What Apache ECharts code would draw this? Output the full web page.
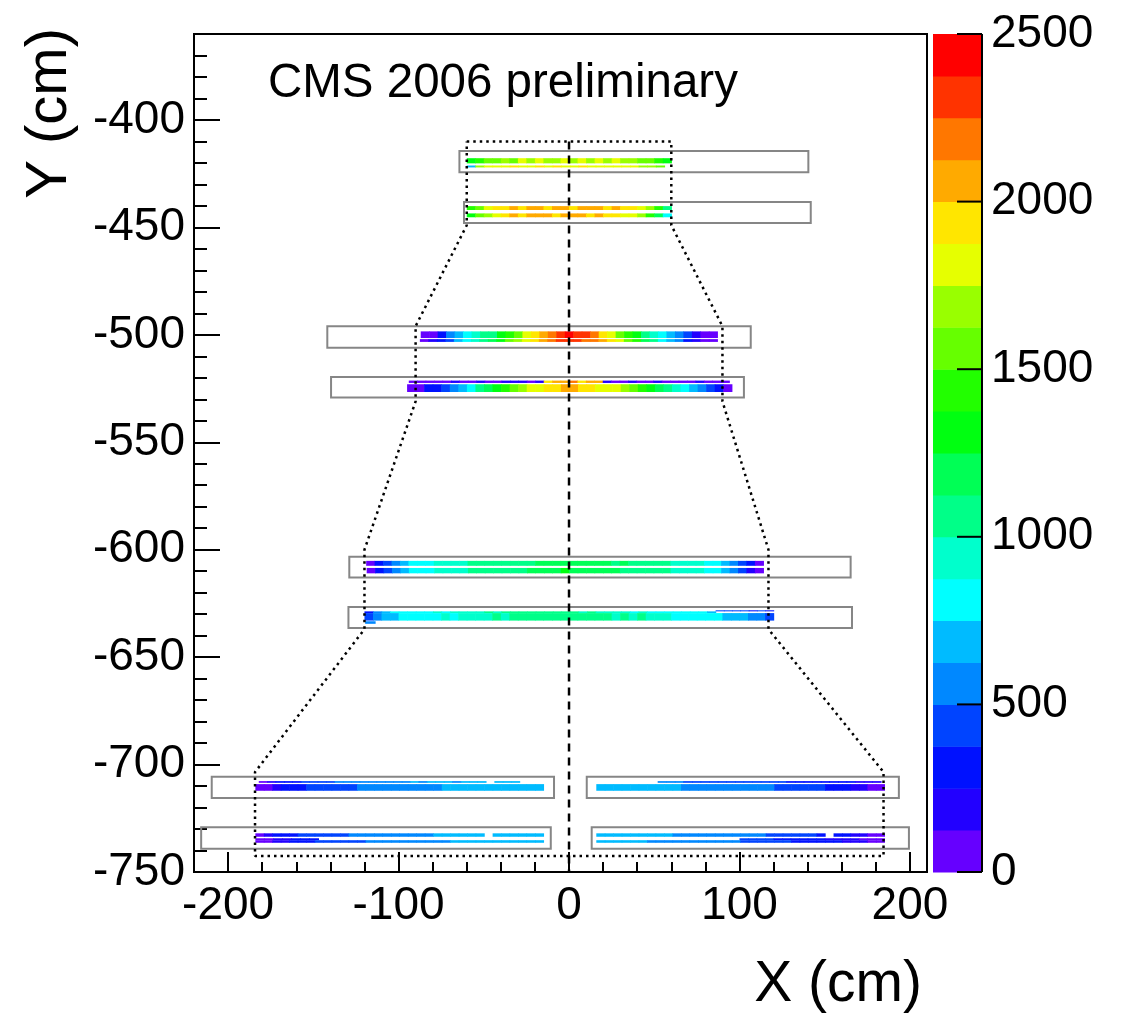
<!DOCTYPE html>
<html><head><meta charset="utf-8">
<script src="https://cdn.jsdelivr.net/npm/echarts@6/dist/echarts.min.js"></script>
<style>html,body{margin:0;padding:0;background:#fff}#c{width:1129px;height:1014px}</style>
</head><body><div id="c"></div>
<script>
// ---------- axes ----------
const xMajorTicks = [-200, -100, 0, 100, 200];
const xMinorTicks = [-180, -160, -140, -120, -80, -60, -40, -20, 20, 40, 60, 80, 120, 140, 160, 180];
const yMajorTicks = [-750, -700, -650, -600, -550, -500, -450, -400];
const yMinorTicks = [-740, -730, -720, -710, -690, -680, -670, -660, -640, -630, -620, -610,
  -590, -580, -570, -560, -540, -530, -520, -510, -490, -480, -470, -460, -440, -430, -420, -410,
  -390, -380, -370];
const zTicks = [0, 500, 1000, 1500, 2000, 2500];
const zStep = 125;
const palette = ['#6600ff', '#2200ff', '#0011ff', '#0044ff', '#0088ff', '#00bbff', '#00ffff', '#00ffcc',
  '#00ff88', '#00ff55', '#00ff11', '#22ff00', '#66ff00', '#99ff00', '#e6ff00', '#ffe600',
  '#ffaa00', '#ff7700', '#ff3300', '#ff0000'];

// ---------- hit strips: x range (cm), y range (cm), counts per bin ----------
const s1a_x = [-60, 60], s1a_y = [-417.8, -420.2];
const s1a_z = [1300, 1450, 1600, 1550, 1700, 1600, 1750, 1650, 1800, 1700, 1650, 1800, 1700, 1800, 1650, 1750, 1700, 1800, 1650, 1700, 1600, 1550, 1450, 1300];
const s1b_x = [-60, 56], s1b_y = [-421.2, -422.1];
const s1b_z = [700, 1650, 1800, 1750, 1850, 1900, 1800, 1850, 1900, 1800, 1900, 1800, 1850, 1950, 1800, 1850, 1750, 1850, 1800, 1750, 1700, 1650, 1550];
const s2a_x = [-60, 60], s2a_y = [-440.1, -441.9];
const s2a_z = [1400, 1600, 1750, 1900, 1950, 2050, 1950, 2100, 2050, 1950, 2100, 2050, 1950, 2100, 2000, 2050, 1950, 2050, 1950, 1900, 1800, 1650, 1450, 1000];
const s2b_x = [-60, 60], s2b_y = [-443.5, -445.3];
const s2b_z = [1250, 1500, 1700, 1850, 1950, 2050, 1950, 2100, 2000, 2050, 1950, 2100, 2000, 2050, 1950, 2000, 1950, 1900, 1850, 1800, 1650, 1450, 1150, 850];
const s3a_x = [-87, 87], s3a_y = [-498.4, -501.5];
const s3a_z = [80, 100, 350, 550, 700, 800, 900, 1000, 1100, 1250, 1400, 1600, 1750, 1900, 2050, 2150, 2300, 2400, 2300, 2250, 2200, 1950, 1800, 1600, 1450, 1300, 1100, 950, 850, 700, 500, 400, 200, 100, 80];
const s3b_x = [-87.5, 87], s3b_y = [-502.0, -503.3];
const s3b_z = [60, 150, 250, 450, 650, 800, 900, 1050, 1200, 1350, 1500, 1650, 1800, 1950, 2100, 2200, 2300, 2350, 2300, 2200, 2150, 2050, 1900, 1750, 1550, 1400, 1200, 1000, 850, 700, 550, 350, 200, 100, 120];
const s4a_x = [-94, 94], s4a_y = [-521.3, -522.4];
const s4a_z = [100, 80, 100, 120, 100, 150, 120, 100, 150, 120, 100, 150, 200, 150, 120, 200, 1900, 2100, 2000, 2150, 1950, 2100, 2000, 150, 120, 100, 150, 120, 100, 150, 120, 100, 120, 100, 150, 100, 120, 100];
const s4b_x = [-95, 95.5], s4b_y = [-523.0, -526.6];
const s4b_z = [100, 120, 250, 350, 450, 600, 700, 850, 1000, 1150, 1300, 1400, 1550, 1700, 1800, 1850, 1900, 1950, 2000, 2050, 1950, 1900, 1850, 1800, 1750, 1650, 1500, 1400, 1300, 1150, 1000, 900, 800, 650, 550, 400, 250, 100];
const s5a_x = [-119, 114], s5a_y = [-605.2, -607.5];
const s5a_z = [100, 350, 450, 600, 700, 800, 850, 850, 900, 900, 950, 950, 1000, 1000, 1000, 1050, 1050, 1100, 1050, 1100, 1150, 1150, 1200, 1150, 1200, 1150, 1200, 1150, 1150, 1100, 1150, 1100, 1050, 1050, 1000, 1000, 950, 950, 900, 900, 850, 800, 700, 500, 400, 250, 100];
const s5b_x = [-118.7, 114], s5b_y = [-608.5, -611.0];
const s5b_z = [80, 300, 450, 600, 700, 800, 850, 850, 900, 900, 950, 950, 1000, 1000, 1050, 1050, 1100, 1100, 1100, 1150, 1150, 1200, 1200, 1250, 1200, 1200, 1150, 1200, 1150, 1150, 1100, 1100, 1050, 1050, 1000, 1000, 950, 950, 900, 900, 850, 800, 700, 550, 400, 200, 100];
const s6t_x = [-120, 86], s6t_y = [-628.7, -629.5];
const s6t_z = [300, 600, 700, 750, 800, 850, 800, 850, 900, 850, 900, 950, 900, 950, 1000, 950, 1000, 1050, 1000, 1050, 1000, 1050, 1000, 1050, 1000, 950, 1000, 950, 900, 950, 900, 850, 900, 850, 800, 850, 800, 750, 800, 750, 700];
const s6u_x = [86, 120], s6u_y = [-628.2, -628.7];
const s6u_z = [450, 400, 450, 400, 350, 400, 350];
const s6_x = [-120, 120], s6_y = [-629.5, -633.0];
const s6_z = [400, 600, 650, 700, 750, 800, 800, 850, 850, 900, 850, 900, 900, 950, 950, 1000, 950, 1000, 1050, 1000, 1000, 1050, 1000, 1050, 1000, 1050, 1000, 1050, 1000, 950, 1000, 950, 1000, 950, 900, 900, 850, 850, 800, 800, 750, 750, 700, 700, 650, 600, 550, 450];
const s6l_x = [-119.6, -113.8], s6l_y = [-633.3, -634.5];
const s6l_z = [500];
const s7La_x = [-182, -29], s7La_y = [-707.7, -708.5];
const s7La_z = [100, 150, 250, 300, 350, 400, 400, 450, 450, 500, 500, 500, 550, 550, 550, 600, 600, 600, 650, 600, 650, 650, 650, 600, 650, 650, 650, null, 650, 650, 650];
const s7Lb_x = [-184, -15], s7Lb_y = [-709.1, -712.2];
const s7Lb_z = [80, 120, 180, 250, 300, 350, 380, 400, 420, 450, 450, 480, 500, 500, 520, 550, 550, 580, 600, 600, 620, 620, 640, 650, 650, 650, 660, 680, 680, 700, 680, 700, 700, 650];
const s7Ra_x = [52, 183], s7Ra_y = [-707.7, -708.5];
const s7Ra_z = [550, 500, 500, 480, 480, 450, 450, 450, 420, 420, 400, 400, 400, 380, 380, 350, 350, 350, 320, 300, 300, 280, 250, 200, 200, 150];
const s7Rb_x = [16, 185], s7Rb_y = [-709.1, -712.2];
const s7Rb_z = [650, 700, 700, 680, 680, 650, 650, 650, 650, 650, 620, 620, 600, 600, 600, 580, 550, 550, 520, 500, 500, 480, 450, 450, 420, 400, 380, 350, 300, 250, 200, 150, 120, 100];
const s8La_x = [-184, -15], s8La_y = [-732.0, -733.6];
const s8La_z = [80, 150, 250, 300, 350, 380, 400, 420, 450, 450, 480, 500, 500, 520, 550, 550, 580, 600, 600, 620, 620, 640, 650, 650, 650, 660, 680, null, 680, 700, 680, 700, 700, 650];
const s8Lc_x = [-184, -147], s8Lc_y = [-734.3, -735.2];
const s8Lc_z = [80, 100, 150, 200, 250, 300, 300];
const s8Lb_x = [-184, -15], s8Lb_y = [-735.2, -736.4];
const s8Lb_z = [80, 100, 150, 200, 250, 300, 350, 380, 400, 420, 450, 450, 480, 500, 500, 520, 550, 550, 580, 600, 600, 620, 620, 640, 650, 650, 650, 660, 680, 680, 700, 680, 700, 650];
const s8Ra_x = [16, 185], s8Ra_y = [-732.0, -733.6];
const s8Ra_z = [700, 700, 680, 680, 650, 650, 650, 650, 650, 620, 620, 600, 600, 600, 580, 550, 550, 520, 500, 500, 480, 450, 450, 420, 400, 380, 350, null, 300, 250, 200, 150, 120, 100];
const s8Rc_x = [100, 185], s8Rc_y = [-734.3, -735.2];
const s8Rc_z = [450, 420, 400, 380, 350, 350, 300, 300, 250, 250, 200, 200, 150, 150, 120, 100, 100];
const s8Rb_x = [16, 185], s8Rb_y = [-735.2, -736.4];
const s8Rb_z = [650, 650, 680, 650, 650, 650, 620, 620, 600, 600, 600, 580, 550, 550, 520, 500, 500, 480, 450, 450, 420, 400, 380, 350, 350, 300, 300, 250, 250, 200, 200, 150, 120, 100];

// ---------- chamber outlines (x0, x1, y0, y1 in cm) ----------
const boxX = [[-64.3, 140.4], [-61.6, 141.8], [-141.8, 106.6], [-139.6, 102.6], [-128.9, 165.2], [-129.4, 166.0], [-209.6, -8.8], [10.4, 193.5], [-215.8, -10.7], [13.3, 199.4]];
const boxY = [[-414.5, -424.3], [-438.2, -448.0], [-496.0, -506.0], [-519.6, -529.2], [-603.3, -612.9], [-626.7, -636.5], [-705.7, -715.6], [-705.7, -715.6], [-729.2, -739.2], [-729.2, -739.2]];

// ---------- dotted acceptance envelope & dashed centre line ----------
const envX = [-60, 60, 60, 90, 90, 117, 117, 184.5, 184.5, -184.2, -184.2, -120, -120, -90, -90, -60, -60];
const envY = [-410, -410, -449, -496, -531, -600, -637, -703.5, -742.6, -742.6, -703.5, -637, -600, -531, -496, -449, -410];
const centreX = [0, 0];
const centreY = [-410, -750];

// ---------- build tables ----------
const strips = [
  [s1a_x, s1a_y, s1a_z], [s1b_x, s1b_y, s1b_z], [s2a_x, s2a_y, s2a_z], [s2b_x, s2b_y, s2b_z],
  [s3a_x, s3a_y, s3a_z], [s3b_x, s3b_y, s3b_z], [s4a_x, s4a_y, s4a_z], [s4b_x, s4b_y, s4b_z],
  [s5a_x, s5a_y, s5a_z], [s5b_x, s5b_y, s5b_z],
  [s6t_x, s6t_y, s6t_z], [s6u_x, s6u_y, s6u_z], [s6_x, s6_y, s6_z], [s6l_x, s6l_y, s6l_z],
  [s7La_x, s7La_y, s7La_z], [s7Lb_x, s7Lb_y, s7Lb_z], [s7Ra_x, s7Ra_y, s7Ra_z], [s7Rb_x, s7Rb_y, s7Rb_z],
  [s8La_x, s8La_y, s8La_z], [s8Lc_x, s8Lc_y, s8Lc_z], [s8Lb_x, s8Lb_y, s8Lb_z],
  [s8Ra_x, s8Ra_y, s8Ra_z], [s8Rc_x, s8Rc_y, s8Rc_z], [s8Rb_x, s8Rb_y, s8Rb_z]
];
const binData = [];
strips.forEach(([xr, yr, z]) => {
  const w = (xr[1] - xr[0]) / z.length;
  z.forEach((v, i) => {
    if (v == null) return;
    binData.push([xr[0] + i * w, xr[0] + (i + 1) * w, yr[0], yr[1], v]);
  });
});
const boxData = boxX.map((bx, i) => [bx[0], bx[1], boxY[i][0], boxY[i][1]]);
const envData = envX.map((x, i) => [x, envY[i]]);
const centreData = centreX.map((x, i) => [x, centreY[i]]);
// palette bands: [x0, x1, zLow, zHigh, colourIndex]
const bandData = palette.map((c, i) => [0, 1, i * zStep, (i + 1) * zStep, i]);

const FONT = '"Liberation Sans", Arial, Helvetica, sans-serif';
function bandOf(v) { return Math.max(0, Math.min(palette.length - 1, Math.floor(v / zStep))); }

const textGraphics = [
  { type: 'text', id: 'title', left: 268, top: 60, style: { text: 'CMS 2006 preliminary', fontSize: 47.5, fontFamily: FONT, fill: '#000' } },
  { type: 'text', id: 'xtitle', x: 922, y: 985, style: { text: 'X (cm)', fontSize: 57, fontFamily: FONT, fill: '#000', align: 'right', verticalAlign: 'middle' } },
  { type: 'text', id: 'ytitle', x: 50, y: 28, rotation: Math.PI / 2, style: { text: 'Y (cm)', fontSize: 58, fontFamily: FONT, fill: '#000', align: 'right', verticalAlign: 'middle' } }
];

const chart = echarts.init(document.getElementById('c'), null, { renderer: 'canvas' });
chart.setOption({
  animation: false,
  backgroundColor: '#fff',
  grid: [
    { left: 194, top: 34, width: 733, height: 838, show: true, borderColor: '#000', borderWidth: 2, backgroundColor: 'transparent' },
    { left: 933, top: 34, width: 49, height: 838, show: false }
  ],
  xAxis: [
    { type: 'value', gridIndex: 0, min: -220, max: 210, position: 'bottom',
      axisLine: { show: true, onZero: false, lineStyle: { color: '#000', width: 2 } },
      axisTick: { show: true, inside: true, length: 20, customValues: xMajorTicks, lineStyle: { color: '#000', width: 2 } },
      axisLabel: { show: true, customValues: xMajorTicks, fontSize: 46, color: '#000', fontFamily: FONT, margin: 11 },
      splitLine: { show: false } },
    { type: 'value', gridIndex: 0, min: -220, max: 210, position: 'bottom',
      axisLine: { show: false, onZero: false },
      axisTick: { show: true, inside: true, length: 10, customValues: xMinorTicks, lineStyle: { color: '#000', width: 2 } },
      axisLabel: { show: false }, splitLine: { show: false } },
    { type: 'value', gridIndex: 1, min: 0, max: 1, position: 'bottom',
      axisLine: { show: false, onZero: false }, axisTick: { show: false }, axisLabel: { show: false }, splitLine: { show: false } }
  ],
  yAxis: [
    { type: 'value', gridIndex: 0, min: -750, max: -360, position: 'left',
      axisLine: { show: true, onZero: false, lineStyle: { color: '#000', width: 2 } },
      axisTick: { show: true, inside: true, length: 26, customValues: yMajorTicks, lineStyle: { color: '#000', width: 2 } },
      axisLabel: { show: true, customValues: yMajorTicks, fontSize: 46, color: '#000', fontFamily: FONT, margin: 9 },
      splitLine: { show: false } },
    { type: 'value', gridIndex: 0, min: -750, max: -360, position: 'left',
      axisLine: { show: false, onZero: false },
      axisTick: { show: true, inside: true, length: 13, customValues: yMinorTicks, lineStyle: { color: '#000', width: 2 } },
      axisLabel: { show: false }, splitLine: { show: false } },
    { type: 'value', gridIndex: 1, min: 0, max: 2500, position: 'right',
      axisLine: { show: false, onZero: false },
      axisTick: { show: false },
      axisLabel: { show: true, customValues: zTicks, fontSize: 46, color: '#000', fontFamily: FONT, margin: 9,
        formatter: function (v) { return String(v); } },
      splitLine: { show: false } }
  ],
  series: [
    { type: 'custom', name: 'hits', xAxisIndex: 0, yAxisIndex: 0, data: binData, clip: true,
      encode: { x: [0, 1], y: [2, 3] },
      renderItem: function (params, api) {
        const p0 = api.coord([api.value(0), api.value(2)]);
        const p1 = api.coord([api.value(1), api.value(3)]);
        return { type: 'rect',
          shape: { x: Math.min(p0[0], p1[0]), y: Math.min(p0[1], p1[1]), width: Math.abs(p1[0] - p0[0]) + 0.6, height: Math.abs(p1[1] - p0[1]) },
          style: { fill: palette[bandOf(api.value(4))] } };
      } },
    { type: 'custom', name: 'chambers', xAxisIndex: 0, yAxisIndex: 0, data: boxData,
      encode: { x: [0, 1], y: [2, 3] },
      renderItem: function (params, api) {
        const p0 = api.coord([api.value(0), api.value(2)]);
        const p1 = api.coord([api.value(1), api.value(3)]);
        return { type: 'rect',
          shape: { x: Math.min(p0[0], p1[0]), y: Math.min(p0[1], p1[1]), width: Math.abs(p1[0] - p0[0]), height: Math.abs(p1[1] - p0[1]) },
          style: { fill: 'none', stroke: '#868686', lineWidth: 2 } };
      } },
    { type: 'line', name: 'envelope', xAxisIndex: 0, yAxisIndex: 0, data: envData, symbol: 'none',
      lineStyle: { color: '#000', width: 2.5, type: [2.5, 4], cap: 'butt' } },
    { type: 'line', name: 'centre', xAxisIndex: 0, yAxisIndex: 0, data: centreData, symbol: 'none',
      lineStyle: { color: '#000', width: 2.5, type: [8, 6], cap: 'butt' } },
    { type: 'custom', name: 'palette', xAxisIndex: 2, yAxisIndex: 2, data: bandData,
      encode: { x: [0, 1], y: [2, 3] },
      renderItem: function (params, api) {
        const p0 = api.coord([api.value(0), api.value(2)]);
        const p1 = api.coord([api.value(1), api.value(3)]);
        return { type: 'rect', shape: { x: p0[0], y: p1[1], width: p1[0] - p0[0], height: p0[1] - p1[1] + 0.5 },
          style: { fill: palette[api.value(4)] } };
      } }
  ],
  graphic: textGraphics
});

// colour-scale frame and ticks, positioned through the colour axis' own scale
const zRight = chart.convertToPixel({ xAxisIndex: 2 }, 1);
const zTop = chart.convertToPixel({ yAxisIndex: 2 }, zTicks[zTicks.length - 1]);
const zBottom = chart.convertToPixel({ yAxisIndex: 2 }, zTicks[0]);
const scaleMarks = [
  { type: 'line', id: 'zaxis-line', z: 100, shape: { x1: zRight, y1: zTop, x2: zRight, y2: zBottom }, style: { stroke: '#000', lineWidth: 2 } }
].concat(zTicks.map((v, i) => {
  const py = chart.convertToPixel({ yAxisIndex: 2 }, v);
  return { type: 'line', id: 'ztick-' + i, z: 100, shape: { x1: zRight - 25, y1: py, x2: zRight, y2: py }, style: { stroke: '#000', lineWidth: 2 } };
}));
chart.setOption({ graphic: textGraphics.concat(scaleMarks) });
</script>
</body></html>
